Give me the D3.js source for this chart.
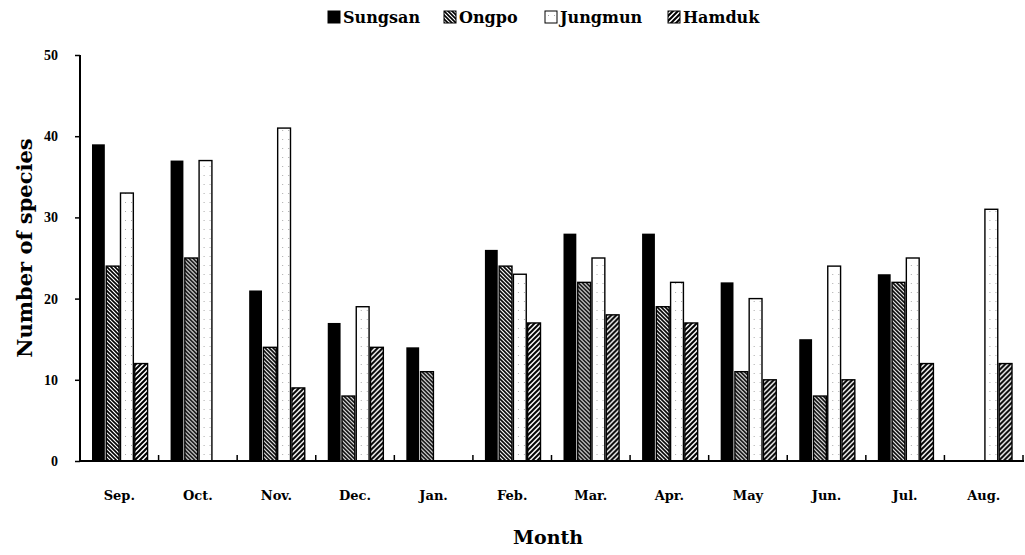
<!DOCTYPE html>
<html>
<head>
<meta charset="utf-8">
<script src="https://cdn.jsdelivr.net/npm/d3@7"></script>
<style>
  body { margin: 0; background: #fff; }
  text { font-family: "DejaVu Serif", "Liberation Serif", serif; font-weight: bold; }
</style>
</head>
<body>
<script>
var width = 1025;
var height = 555;

var months = ["Sep.", "Oct.", "Nov.", "Dec.", "Jan.", "Feb.", "Mar.", "Apr.", "May", "Jun.", "Jul.", "Aug."];
var sites = ["Sungsan", "Ongpo", "Jungmun", "Hamduk"];
var sungsan = [39, 37, 21, 17, 14, 26, 28, 28, 22, 15, 23, 0];
var ongpo   = [24, 25, 14, 8, 11, 24, 22, 19, 11, 8, 22, 0];
var jungmun = [33, 37, 41, 19, 0, 23, 25, 22, 20, 24, 25, 31];
var hamduk  = [12, 0, 9, 14, 0, 17, 18, 17, 10, 10, 12, 12];
var yTicks = [0, 10, 20, 30, 40, 50];

var series = [sungsan, ongpo, jungmun, hamduk];
var fills = ["#000", "url(#ongpo)", "url(#jungmun)", "url(#hamduk)"];

var svg = d3.select("body")
  .append("svg")
  .attr("width", width)
  .attr("height", height);

// patterns for the hatched bars
var defs = svg.append("defs");
var p1 = defs.append("pattern")
  .attr("id", "ongpo")
  .attr("patternUnits", "userSpaceOnUse")
  .attr("width", 4).attr("height", 4);
p1.append("rect").attr("width", 4).attr("height", 4).attr("fill", "#fff");
p1.append("path").attr("d", "M-1,-1 L5,5 M-1,3 L1,5 M3,-1 L5,1")
  .attr("stroke", "#000").attr("stroke-width", 1.6);

var p2 = defs.append("pattern")
  .attr("id", "hamduk")
  .attr("patternUnits", "userSpaceOnUse")
  .attr("width", 5).attr("height", 5);
p2.append("rect").attr("width", 5).attr("height", 5).attr("fill", "#fff");
p2.append("path").attr("d", "M-1,6 L6,-1 M-1,1 L1,-1 M4,6 L6,4")
  .attr("stroke", "#000").attr("stroke-width", 2);

var p3 = defs.append("pattern")
  .attr("id", "jungmun")
  .attr("patternUnits", "userSpaceOnUse")
  .attr("width", 6).attr("height", 9);
p3.append("rect").attr("width", 6).attr("height", 9).attr("fill", "#fff");
p3.append("rect").attr("x", 3).attr("y", 4).attr("width", 1).attr("height", 1).attr("fill", "#aaa");

var x0 = d3.scaleBand()
  .domain(months)
  .range([80, 1023]);

var x1 = d3.scaleBand()
  .domain(d3.range(sites.length))
  .range([12, x0.bandwidth() - 11])
  .paddingInner(0.1);

var y = d3.scaleLinear()
  .domain([0, 50])
  .range([461, 55]);

// bars
var groups = svg.append("g")
  .selectAll("g")
  .data(months)
  .enter().append("g")
  .attr("transform", function(d) { return "translate(" + x0(d) + ",0)"; });

groups.selectAll("rect")
  .data(function(d, i) { return series.map(function(s, k) { return { k: k, v: s[i] }; }); })
  .enter().append("rect")
  .filter(function(d) { return d.v > 0; })
  .attr("x", function(d) { return x1(d.k); })
  .attr("y", function(d) { return y(d.v); })
  .attr("width", x1.bandwidth())
  .attr("height", function(d) { return y(0) - y(d.v); })
  .attr("fill", function(d) { return fills[d.k]; })
  .attr("stroke", "#000")
  .attr("stroke-width", function(d) { return d.k == 0 ? 0 : 1.4; });

// y axis
var yAxis = svg.append("g")
  .attr("transform", "translate(80,0)")
  .call(d3.axisLeft(y).tickValues(yTicks).tickSize(5).tickPadding(17));
yAxis.select(".domain").attr("stroke-width", 2).attr("d", "M0,55 V461");
yAxis.selectAll("line").attr("stroke-width", 1.5);
yAxis.selectAll("text")
  .style("font-family", "Liberation Serif")
  .style("font-size", "14px").attr("fill", "#000");

// x axis: ticks between groups, pointing inward
var xAxis = svg.append("g")
  .attr("transform", "translate(0,461)");
xAxis.append("line")
  .attr("x1", 79).attr("x2", 1024)
  .attr("stroke", "#000").attr("stroke-width", 2);
xAxis.selectAll(".tk")
  .data(months)
  .enter().append("line")
  .attr("x1", function(d) { return x0(d) + x0.bandwidth(); })
  .attr("x2", function(d) { return x0(d) + x0.bandwidth(); })
  .attr("y1", 0).attr("y2", -6)
  .attr("stroke", "#000").attr("stroke-width", 1.5);
xAxis.selectAll("text")
  .data(months)
  .enter().append("text")
  .attr("x", function(d) { return x0(d) + x0.bandwidth() / 2; })
  .attr("y", 39)
  .attr("text-anchor", "middle")
  .style("font-size", "13px")
  .text(function(d) { return d; });

// titles
svg.append("text")
  .attr("x", 548).attr("y", 544)
  .attr("text-anchor", "middle")
  .style("font-size", "19px")
  .text("Month");

svg.append("text")
  .attr("transform", "translate(32,248) rotate(-90)")
  .attr("text-anchor", "middle")
  .style("font-size", "21px")
  .text("Number of species");

// legend
var legendX = [328, 444, 545, 668];
var legend = svg.append("g")
  .selectAll("g")
  .data(sites)
  .enter().append("g")
  .attr("transform", function(d, i) { return "translate(" + legendX[i] + ",11)"; });
legend.append("rect")
  .attr("width", 12).attr("height", 12)
  .attr("fill", function(d, i) { return fills[i]; })
  .attr("stroke", "#000")
  .attr("stroke-width", 1);
legend.append("text")
  .attr("x", 15).attr("y", 12)
  .style("font-size", "16px")
  .text(function(d) { return d; });
</script>
</body>
</html>
